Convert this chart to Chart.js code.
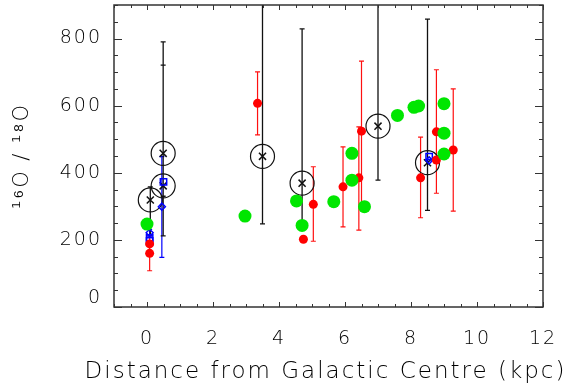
<!DOCTYPE html>
<html lang="en">
<head>
    <meta charset="UTF-8">
    <title>16O/18O vs Galactocentric distance</title>
    <script src="https://cdn.jsdelivr.net/npm/chart.js"></script>
    <style>
        html, body {
            margin: 0;
            padding: 0;
            background: #fff;
        }
        .chart-container {
            width: 567px;
            height: 385px;
        }
    </style>
</head>
<body>
    <div class="chart-container">
        <canvas id="ratio-chart" width="567" height="385"></canvas>
    </div>

    <script>
        // black crosses in open circles, with error bars
        const modelX  = [0.10, 0.49, 0.49, 3.50, 4.70, 7.00, 8.50];
        const modelY  = [319, 361, 458, 449, 369, 539, 430];
        const modelLo = [215, 212, 330, 248, 239, 378, 288];
        const modelHi = [358, 721, 790, 1000, 829, 1000, 858];

        // red filled dots, some with error bars (null = no bar)
        const redX  = [0.08, 0.08, 3.35, 4.74, 5.04, 5.94, 6.42, 6.50, 8.29, 8.77, 8.77, 9.28];
        const redY  = [188, 160, 607, 202, 306, 358, 385, 524, 385, 522, 438, 468];
        const redLo = [null, 108, 513, null, 196, 239, 229, 300, 266, 339, null, 286];
        const redHi = [null, 212, 701, null, 418, 477, 537, 733, 506, 707, null, 650];

        // green filled dots
        const greenX = [0.00, 2.97, 4.53, 4.70, 5.66, 6.21, 6.21, 6.59, 7.59, 8.09, 8.23, 9.00, 9.00, 9.00];
        const greenY = [247, 271, 316, 243, 314, 458, 378, 299, 571, 595, 599, 606, 518, 456];

        // blue open squares and diamonds
        const blueSqX = [0.08, 0.08, 0.50, 8.55];
        const blueSqY = [206, 197, 373, 448];
        const blueDiX = [0.08, 0.45, 8.55];
        const blueDiY = [221, 299, 437];
        const blueDiLo = [211, 148, null];
        const blueDiHi = [231, 448, null];

        // axes
        const xTickLabels = [0, 2, 4, 6, 8, 10, 12];
        const yTickLabels = [0, 200, 400, 600, 800];
        const xTitle = 'Distance from Galactic Centre (kpc)';
        const yTitle = '\u00B9\u2076O / \u00B9\u2078O';

        const toPoints = (xs, ys) => xs.map((x, i) => ({ x: x, y: ys[i] }));

        const fontFamily = '"DejaVu Sans", "Liberation Sans", sans-serif';

        function drawBars(chart, xs, los, his, color, width, cap) {
            const ctx = chart.ctx;
            const xs_ = chart.scales.x, ys_ = chart.scales.y;
            ctx.strokeStyle = color;
            ctx.lineWidth = width;
            ctx.beginPath();
            for (let i = 0; i < xs.length; i++) {
                if (los[i] == null) continue;
                const px = xs_.getPixelForValue(xs[i]);
                const y1 = ys_.getPixelForValue(los[i]);
                const y2 = ys_.getPixelForValue(his[i]);
                ctx.moveTo(px, y1);
                ctx.lineTo(px, y2);
                ctx.moveTo(px - cap, y1);
                ctx.lineTo(px + cap, y1);
                ctx.moveTo(px - cap, y2);
                ctx.lineTo(px + cap, y2);
            }
            ctx.stroke();
        }

        const idlStyle = {
            id: 'idlStyle',
            beforeDraw(chart) {
                chart.ctx.letterSpacing = '2px';
            },
            beforeDatasetsDraw(chart) {
                const ctx = chart.ctx;
                const a = chart.chartArea;
                ctx.save();
                ctx.beginPath();
                ctx.rect(a.left, a.top, a.right - a.left, a.bottom - a.top);
                ctx.clip();
                drawBars(chart, redX, redLo, redHi, '#ff1010', 1.2, 2.5);
                drawBars(chart, blueDiX, blueDiLo, blueDiHi, '#0000ff', 1.2, 2.5);
                drawBars(chart, modelX, modelLo, modelHi, '#111', 1.3, 2.5);
                ctx.restore();
            },
            afterDraw(chart) {
                const ctx = chart.ctx;
                const a = chart.chartArea;
                const x = chart.scales.x, y = chart.scales.y;
                ctx.save();
                ctx.strokeStyle = '#333';
                ctx.lineWidth = 1.5;
                ctx.strokeRect(a.left, a.top, a.right - a.left, a.bottom - a.top);
                ctx.lineWidth = 1;
                ctx.beginPath();
                for (let v = 0; v <= 900; v += 50) {
                    const py = Math.round(y.getPixelForValue(v)) + 0.5;
                    const len = v % 200 === 0 ? 8 : 4;
                    ctx.moveTo(a.left, py);
                    ctx.lineTo(a.left + len, py);
                    ctx.moveTo(a.right, py);
                    ctx.lineTo(a.right - len, py);
                }
                for (let v = -1; v <= 12; v += 0.5) {
                    const px = Math.round(x.getPixelForValue(v)) + 0.5;
                    const len = v % 2 === 0 ? 5 : 3;
                    ctx.moveTo(px, a.bottom);
                    ctx.lineTo(px, a.bottom - len);
                    ctx.moveTo(px, a.top);
                    ctx.lineTo(px, a.top + len);
                }
                ctx.stroke();

                // x axis title, wider than the plot box so drawn without maxWidth squeeze
                ctx.fillStyle = '#000';
                ctx.font = '200 23px ' + fontFamily;
                ctx.textAlign = 'center';
                ctx.textBaseline = 'middle';
                ctx.fillText(xTitle, (a.left + a.right) / 2 - 3, x.bottom - 13);
                ctx.restore();
            }
        };

        const ctx = document.getElementById('ratio-chart').getContext('2d');
        new Chart(ctx, {
            type: 'scatter',
            data: {
                datasets: [
                    {
                        data: toPoints(greenX, greenY),
                        pointStyle: 'circle',
                        pointRadius: 6.5,
                        backgroundColor: '#00e600',
                        borderWidth: 0
                    },
                    {
                        data: toPoints(redX, redY),
                        pointStyle: 'circle',
                        pointRadius: 4.5,
                        backgroundColor: '#ff0000',
                        borderWidth: 0
                    },
                    {
                        data: toPoints(blueSqX, blueSqY),
                        pointStyle: 'rect',
                        pointRadius: 4.5,
                        backgroundColor: 'rgba(0,0,0,0)',
                        borderColor: '#0000ff',
                        borderWidth: 1.5
                    },
                    {
                        data: toPoints(blueDiX, blueDiY),
                        pointStyle: 'rectRot',
                        pointRadius: 3.5,
                        backgroundColor: 'rgba(0,0,0,0)',
                        borderColor: '#0000ff',
                        borderWidth: 1.5
                    },
                    {
                        data: toPoints(modelX, modelY),
                        pointStyle: 'circle',
                        pointRadius: 12,
                        backgroundColor: 'rgba(0,0,0,0)',
                        borderColor: '#111',
                        borderWidth: 1.2
                    },
                    {
                        data: toPoints(modelX, modelY),
                        pointStyle: 'crossRot',
                        pointRadius: 5,
                        borderColor: '#111',
                        borderWidth: 1.5
                    }
                ]
            },
            options: {
                responsive: false,
                animation: false,
                devicePixelRatio: 1,
                layout: {
                    autoPadding: false,
                    padding: { top: 5, right: 24, left: 0, bottom: 0 }
                },
                plugins: {
                    legend: { display: false },
                    tooltip: { enabled: false }
                },
                scales: {
                    x: {
                        type: 'linear',
                        min: -1,
                        max: 12,
                        grid: { display: false, drawTicks: false },
                        border: { display: false },
                        afterBuildTicks: s => { s.ticks = xTickLabels.map(v => ({ value: v })); },
                        afterFit: s => { s.height = 78; s.paddingLeft = 0; s.paddingRight = 0; },
                        ticks: {
                            padding: 21,
                            color: '#000',
                            font: { family: fontFamily, size: 19, weight: 200 },
                            maxRotation: 0
                        },
                        title: { display: false }
                    },
                    y: {
                        type: 'linear',
                        min: 0,
                        max: 900,
                        grid: { display: false, drawTicks: false },
                        border: { display: false },
                        afterBuildTicks: s => { s.ticks = yTickLabels.map(v => ({ value: v })); },
                        afterFit: s => { s.width = 114; s.paddingTop = 0; s.paddingBottom = 0; },
                        ticks: {
                            padding: 12,
                            color: '#000',
                            font: { family: fontFamily, size: 19, weight: 200, lineHeight: 0.9 },
                            // the 0 label sits a little above the axis, as in the original
                            callback: v => v === 0 ? ['0', ''] : String(v)
                        },
                        title: {
                            display: true,
                            text: yTitle,
                            color: '#000',
                            padding: { top: 10, bottom: 0 },
                            font: { family: fontFamily, size: 21, weight: 200 }
                        }
                    }
                }
            },
            plugins: [idlStyle]
        });
    </script>
</body>
</html>
